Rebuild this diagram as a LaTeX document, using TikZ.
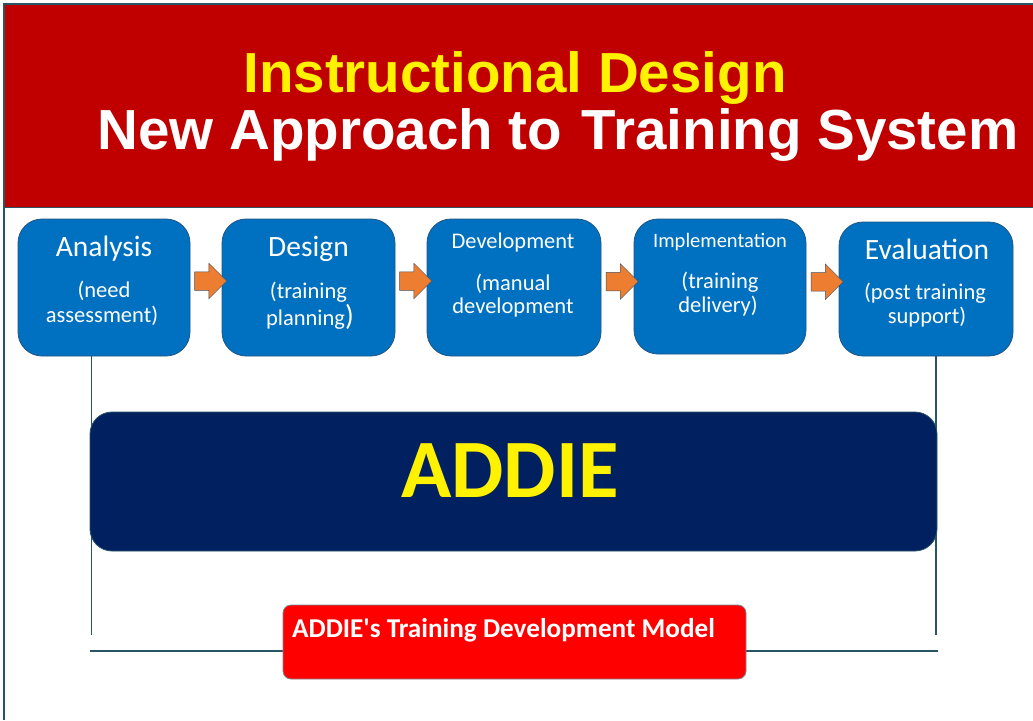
\documentclass[tikz,border=0pt]{standalone}
\usepackage{fontspec}
\setmainfont{Carlito}
\newfontfamily\arialf{Liberation Sans}
\usetikzlibrary{shapes.arrows,calc}
\definecolor{banner}{RGB}{192,0,0}
\definecolor{boxblue}{RGB}{0,112,192}
\definecolor{boxedge}{RGB}{35,85,130}
\definecolor{navy}{RGB}{0,32,96}
\definecolor{arrowor}{RGB}{237,125,49}
\definecolor{arrowedge}{RGB}{70,80,90}
\definecolor{tealline}{RGB}{40,85,100}
\definecolor{redbox}{RGB}{255,0,0}
\definecolor{redboxedge}{RGB}{120,140,150}
\begin{document}
\begin{tikzpicture}[x=1pt,y=-1pt,
  stage/.style={draw=boxedge, line width=0.8pt, fill=boxblue, rounded corners=24pt, inner sep=0pt},
  stagetitle/.style={text=white, font=\fontsize{29.5}{32}\selectfont, anchor=base, inner sep=0pt},
  stagesmall/.style={text=white, font=\fontsize{22.4}{26}\selectfont, anchor=base, inner sep=0pt},
  stagesub/.style={text=white, font=\fontsize{22.5}{26}\selectfont, anchor=base, inner sep=0pt},
  flow/.style={single arrow, draw=arrowedge, line width=0.5pt, fill=arrowor, inner xsep=0pt, inner ysep=9pt, minimum height=32pt, single arrow head extend=8.5pt, anchor=center},
  link/.style={draw=tealline, line width=1.6pt},
  headline/.style={font=\arialf\bfseries\fontsize{56.5}{62}\selectfont, anchor=base, inner sep=0pt}
]
\useasboundingbox (0,0) rectangle (1033,720);
\fill[white] (0,0) rectangle (1033,720);
% banner and frame
\node[fill=banner, minimum width=1028pt, minimum height=202pt, inner sep=0pt, anchor=north west] (banner) at (5,5) {};
\draw[link] (4,720) -- (4,4) -- (1033,4);
\draw[draw=tealline, line width=1.5pt] (banner.south west) -- (banner.south east);
\node[headline, text=yellow] (t1) at (515,92) {Instructional Design};
\node[headline, text=white] (t2) at (558,149) {New Approach to\hspace{0.35em}Training System};
% stages
\node[stage, minimum width=172pt, minimum height=137pt] (an) at (104,287.5) {};
\node[stage, minimum width=173pt, minimum height=137pt] (de) at (308.5,287.5) {};
\node[stage, minimum width=174pt, minimum height=137pt] (dv) at (514,287.5) {};
\node[stage, minimum width=172pt, minimum height=135pt] (im) at (720,286.5) {};
\node[stage, minimum width=174pt, minimum height=134pt] (ev) at (926,289) {};
\node[stagetitle] (an1) at (104,256) {Analysis};
\node[stagesub] (an2) at (104,297) {(need};
\node[stagesub] (an3) at (102,322) {assessment)};
\node[stagetitle] (de1) at (308.5,256) {Design};
\node[stagesub] (de2) at (308.5,298) {(training};
\node[stagesub] (de3) at (310,325) {planning{\fontsize{29}{29}\selectfont)}};
\node[stagesmall] (dv1) at (513,248) {Development};
\node[stagesub] (dv2) at (513,290) {(manual};
\node[stagesub] (dv3) at (513,313) {development};
\node[stagesmall, font=\fontsize{20.5}{24}\selectfont] (im1) at (720,247) {Implementation};
\node[stagesub] (im2) at (720,288) {(training};
\node[stagesub] (im3) at (718,312) {delivery)};
\node[stagetitle] (ev1) at (927,259) {Evaluation};
\node[stagesub] (ev2) at (925,299) {(post training};
\node[stagesub] (ev3) at (927,323) {support)};
% arrows
\node[flow] (a1) at ($(an.east)!0.5!(de.west)+(0,-6.5)$) {};
\node[flow] (a2) at ($(de.east)!0.5!(dv.west)+(0,-6.5)$) {};
\node[flow] (a3) at ($(dv.east)!0.5!(im.west)+(0,-5.5)$) {};
\node[flow] (a4) at ($(im.east)!0.5!(ev.west)+(0,-6)$) {};
% side lines
\coordinate (lb) at (91.5,635);
\coordinate (rb) at (936,635);
\coordinate (hl) at (90,651);
\coordinate (hr) at (938,651);
\draw[link] (an.south -| lb) -- (lb);
\draw[link] (ev.south -| rb) -- (rb);
\draw[link] (hl) -- (hr);
% ADDIE
\node[fill=navy, draw=tealline, line width=0.8pt, rounded corners=22pt, minimum width=847pt, minimum height=139pt, inner sep=0pt] (addie) at (513.5,481.5) {};
\node[text=yellow, font=\bfseries\fontsize{83}{92}\selectfont, anchor=base, inner sep=0pt] (addiet) at (510,497) {ADDIE};
% model box
\node[fill=redbox, draw=redboxedge, line width=0.8pt, rounded corners=8pt, minimum width=463pt, minimum height=74pt, inner sep=0pt] (model) at (514.5,642) {};
\node[text=white, font=\bfseries\fontsize{27.2}{30}\selectfont, anchor=base west, inner sep=0pt] (modelt) at (292,637) {ADDIE\textquotesingle s Training Development Model};
\end{tikzpicture}
\end{document}
